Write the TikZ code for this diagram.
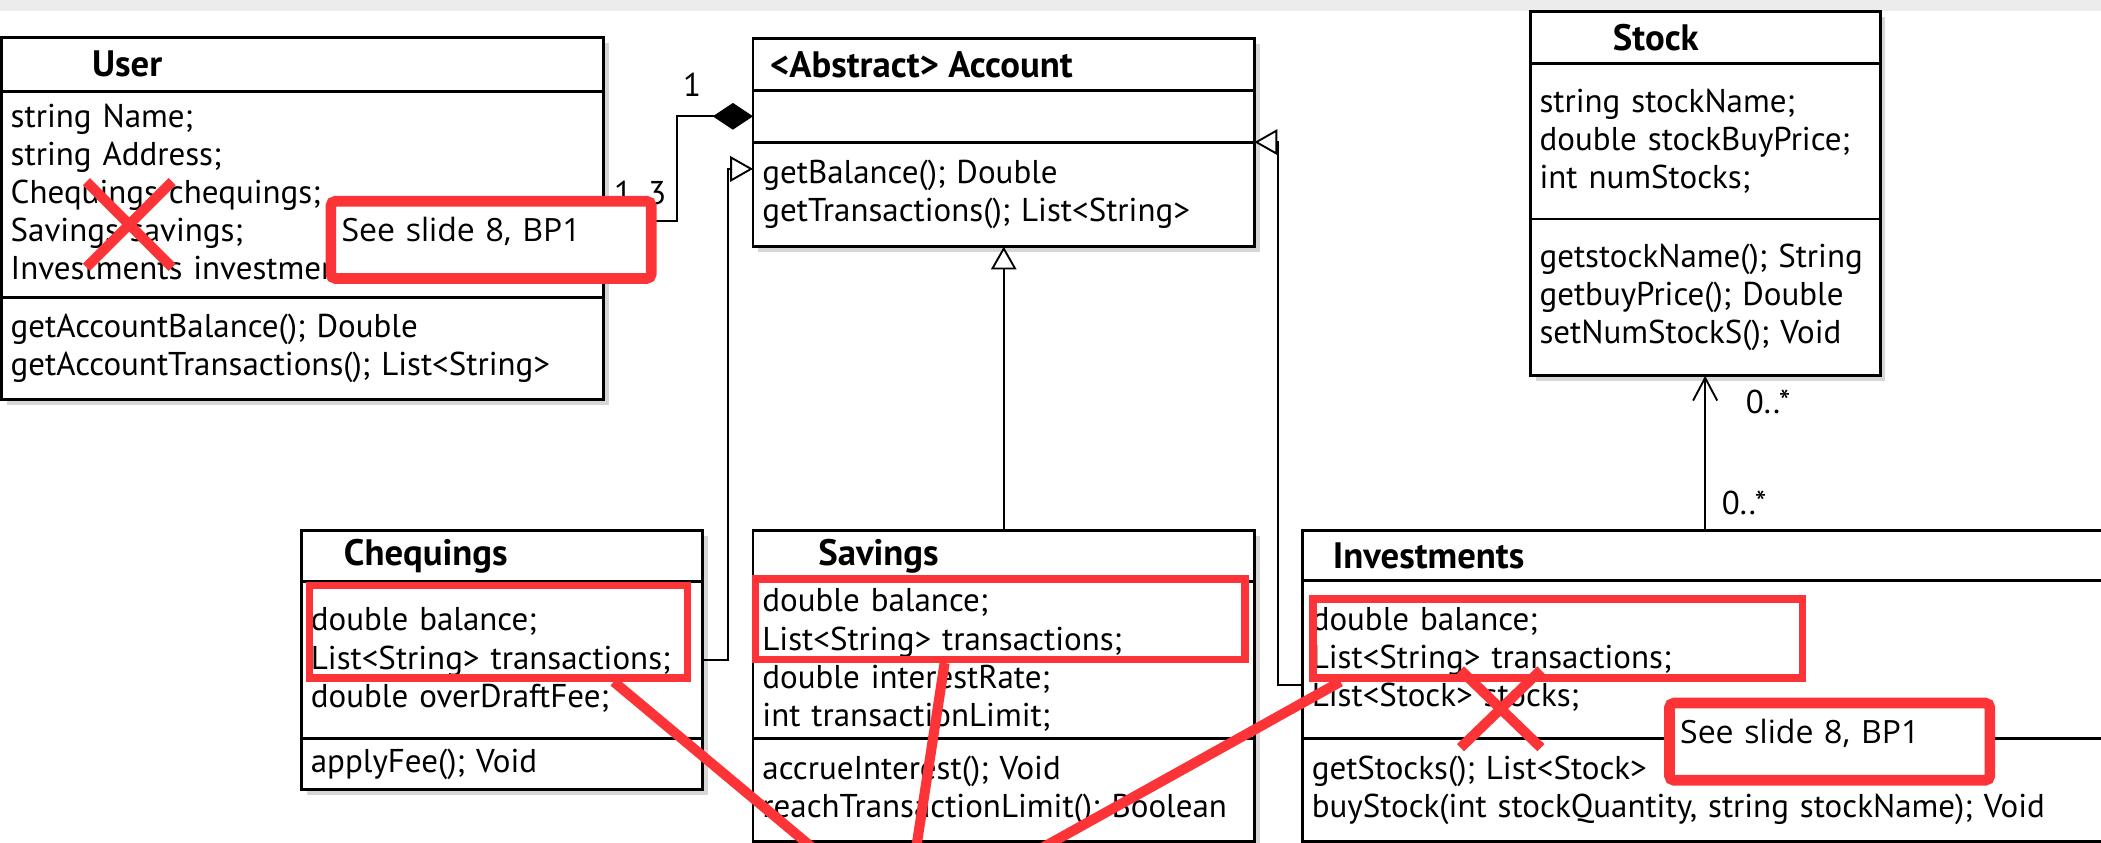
\documentclass[tikz,border=0pt]{standalone}
\usepackage{fontspec}
\usetikzlibrary{positioning,arrows.meta,shadows}

\newfontfamily\umlfont{PT Sans}
\newfontfamily\notefont{Open Sans}
\newcommand{\umlsize}{\fontsize{7pt}{8.1pt}\selectfont}
\definecolor{markred}{RGB}{252,52,56}
\definecolor{topgray}{RGB}{236,236,236}
\definecolor{shadowgray}{RGB}{214,214,214}

\begin{document}
\begin{tikzpicture}
	[x=0.01cm, y=-0.01cm,
		classpart/.style={rectangle, draw=black, line width=0.6pt, fill=white, outer sep=0pt, inner xsep=0.07cm, inner ysep=1pt, align=left, font=\umlfont\umlsize, drop shadow={shadow xshift=0.04cm, shadow yshift=-0.04cm, fill=shadowgray, opacity=1}},
		classname/.style={font=\umlfont\bfseries\fontsize{7.8pt}{8pt}\selectfont, inner sep=0pt},
		mult/.style={font=\umlfont\umlsize},
		assoc/.style={line width=0.4pt, -{Diamond[length=0.3cm, width=0.2cm]}},
		genl/.style={line width=0.4pt, -{Triangle[open, length=0.17cm, width=0.19cm, fill=white]}},
		navig/.style={line width=0.4pt, -{Straight Barb[length=0.17cm, width=0.18cm]}},
		markbox/.style={rectangle, draw=markred, line width=0.055cm},
		markline/.style={draw=markred, line width=0.075cm},
		strike/.style={draw=markred, line width=0.075cm},
		note/.style={rectangle, draw=markred, line width=0.08cm, rounded corners=1pt, fill=white, inner xsep=0.08cm, text width=2.23cm, minimum height=0.54cm, text depth=0.16cm, align=left, font=\notefont\fontsize{6.8pt}{8pt}\selectfont},
	]

	\useasboundingbox (0,0) rectangle (1568,629);
	\clip (0,0) rectangle (1568,629);
	\fill[white] (0,0) rectangle (1568,629);
	\fill[topgray] (0,0) rectangle (1568,8);

	% classes
	\node[classpart, text width=4.35cm, minimum height=0.40cm, anchor=north west] (user) at (1,28) {};
	\node[classpart, text width=4.35cm, minimum height=1.54cm, below=0pt of user] (userattr) {string Name;\\string Address;\\Chequings chequings;\\Savings savings;\\Investments investments;};
	\node[classpart, text width=4.35cm, minimum height=0.76cm, below=0pt of userattr] (usermeth) {getAccountBalance(); Double\\getAccountTransactions(); List<String>};
	\node[classname, right=0.67cm of user.west] (usertitle) {User};

	\node[classpart, text width=3.60cm, minimum height=0.39cm, anchor=north west] (account) at (562,28.5) {};
	\node[classpart, text width=3.60cm, minimum height=0.385cm, below=0pt of account] (accountattr) {};
	\node[classpart, text width=3.60cm, minimum height=0.78cm, below=0pt of accountattr] (accountmeth) {getBalance(); Double\\getTransactions(); List<String>};
	\node[classname, right=0.12cm of account.west] (accounttitle) {<Abstract> Account};

	\node[classpart, text width=2.47cm, minimum height=0.39cm, anchor=north west] (stock) at (1142,8.3) {};
	\node[classpart, text width=2.47cm, minimum height=1.16cm, below=0pt of stock] (stockattr) {string stockName;\\double stockBuyPrice;\\int numStocks;};
	\node[classpart, text width=2.47cm, minimum height=1.17cm, below=0pt of stockattr] (stockmeth) {getstockName(); String\\getbuyPrice(); Double\\setNumStockS(); Void};
	\node[classname, right=0.61cm of stock.west] (stocktitle) {Stock};

	\node[classpart, text width=2.85cm, minimum height=0.38cm, anchor=north west] (chequings) at (225,396) {};
	\node[classpart, text width=2.85cm, minimum height=1.17cm, below=0pt of chequings] (chequingsattr) {double balance;\\List<String> transactions;\\double overDraftFee;};
	\node[classpart, text width=2.85cm, minimum height=0.38cm, below=0pt of chequingsattr] (chequingsmeth) {applyFee(); Void};
	\node[classname, right=0.31cm of chequings.west] (chequingstitle) {Chequings};

	\node[classpart, text width=3.60cm, minimum height=0.38cm, anchor=north west] (savings) at (562,396) {};
	\node[classpart, text width=3.60cm, minimum height=1.17cm, below=0pt of savings] (savingsattr) {double balance;\\List<String> transactions;\\double interestRate;\\int transactionLimit;};
	\node[classpart, text width=3.60cm, minimum height=0.77cm, below=0pt of savingsattr] (savingsmeth) {accrueInterest(); Void\\reachTransactionLimit(); Boolean};
	\node[classname, right=0.48cm of savings.west] (savingstitle) {Savings};

	\node[classpart, text width=6.14cm, minimum height=0.37cm, anchor=north west] (investments) at (972,396) {};
	\node[classpart, text width=6.14cm, minimum height=1.18cm, below=0pt of investments] (investmentsattr) {double balance;\\List<String> transactions;\\List<Stock> stocks;};
	\node[classpart, text width=6.14cm, minimum height=0.77cm, below=0pt of investmentsattr] (investmentsmeth) {getStocks(); List<Stock>\\buyStock(int stockQuantity, string stockName); Void};
	\node[classname, right=0.22cm of investments.west] (investmentstitle) {Investments};

	% relations
	\draw[assoc] ([yshift=-0.2cm]userattr.east) -- node[mult, above=0pt] {1..3} ++(55,0) |- node[mult, pos=0.6, above=0.02cm] {1} (accountattr.west);
	\draw[genl] (chequingsattr.east) -- ++(19,0) |- ([yshift=0.19cm]accountmeth.west);
	\draw[genl] (savings) -- (accountmeth);
	\draw[genl] ([yshift=-0.19cm]investmentsattr.west) -- ++(-18,0) |- (accountmeth.north east);
	\draw[navig] (stockmeth.south |- investments.north) -- node[mult, pos=0.18, right=0pt] {0..*} node[mult, pos=0.83, right=0.18cm] {0..*} (stockmeth.south);

	% red marks
	\node[markbox, minimum width=2.82cm, minimum height=0.69cm] (chqmark) at (372,471.5) {};
	\node[markbox, minimum width=3.65cm, minimum height=0.60cm] (savmark) at (746.5,462) {};
	\node[markbox, minimum width=3.65cm, minimum height=0.59cm] (invmark) at (1162.5,476.5) {};

	\coordinate (focus) at (675,690);
	\draw[markline] ([xshift=0.86cm]chqmark.south) -- (focus);
	\draw[markline] ([xshift=-0.415cm]savmark.south) -- (focus);
	\draw[markline] ([xshift=-1.62cm]invmark.south) -- (focus);

	\coordinate (userx) at (96.5,167.5);
	\coordinate (invx) at (1120,529);
	\draw[strike] (userx) +(-32,-32) -- +(32,32) (userx) +(32,-32) -- +(-32,32);
	\draw[strike] (invx) +(-30,-29) -- +(30,29) (invx) +(30,-29) -- +(-30,29);

	\node[note] (note1) at (366.5,179) {See slide 8, BP1};
	\node[note] (note2) at (1365.5,553.5) {See slide 8, BP1};

\end{tikzpicture}
\end{document}
